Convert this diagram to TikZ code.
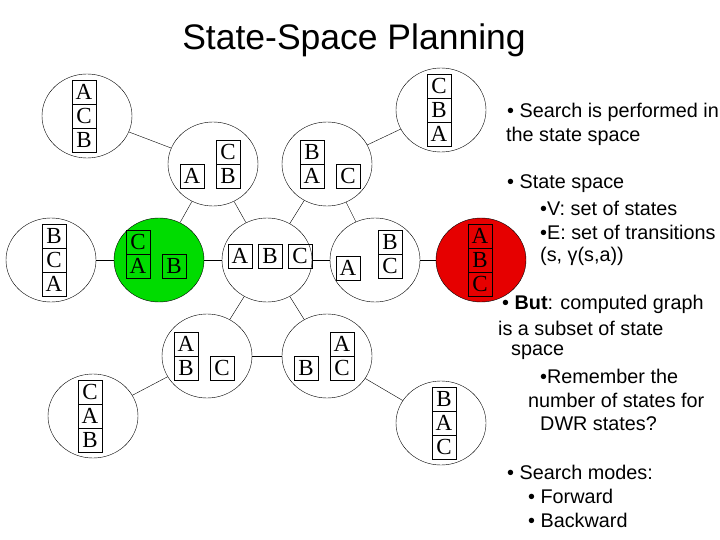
\documentclass[tikz,border=0pt]{standalone}
\usepackage{fontspec}
\setmainfont{Liberation Serif}
\newfontfamily\sans{Liberation Sans}
\begin{document}
\begin{tikzpicture}[x=1pt,y=-1pt,
  st/.style={draw,ellipse,minimum width=90,minimum height=84,inner sep=0},
  blk/.style={draw,minimum size=24,inner sep=0,font=\fontsize{23}{23}\selectfont},
  rt/.style={anchor=west,font=\sans\fontsize{19.8}{19.8}\selectfont,inner sep=0}]
\usetikzlibrary{shapes.geometric}
\path[use as bounding box] (0,0) rectangle (720,540);
\node[font=\sans\fontsize{35.5}{35.5}\selectfont] (title) at (354,40) {State-Space Planning};
\node[st] (s1) at (87,116) {};
\node[st] (s2) at (213,164) {};
\node[st] (s3) at (327,164) {};
\node[st] (s4) at (441,110) {};
\node[st] (s5) at (51,260) {};
\node[st,fill={rgb,255:red,0;green,220;blue,0}] (s6) at (159,260) {};
\node[st] (s7) at (267,260) {};
\node[st] (s8) at (375,260) {};
\node[st,fill={rgb,255:red,230;green,0;blue,0}] (s9) at (481,260) {};
\node[st] (s10) at (207,356) {};
\node[st] (s11) at (327,356) {};
\node[st] (s12) at (93,416) {};
\node[st] (s13) at (441,423) {};
\foreach \a/\b in {s1/s2,s2/s6,s2/s7,s3/s7,s3/s4,s3/s8,s5/s6,s6/s7,s7/s8,s8/s9,s7/s10,s7/s11,s10/s11,s10/s12,s11/s13}
  \draw (\a) -- (\b);
% blocks
\foreach \n/\x/\y/\t in {
 a1/84/92/A,a2/84/116/C,a3/84/140/B,
 b1/192/176/A,b2/228/152/C,b3/228/176/B,
 c1/312/152/B,c2/312/176/A,c3/348/176/C,
 d1/439/86/C,d2/439/110/B,d3/439/134/A,
 e1/54/236/B,e2/54/260/C,e3/54/284/A,
 f1/138/242/C,f2/138/266/A,f3/174/266/B,
 g1/240/256/A,g2/270/256/B,g3/300/256/C,
 h1/348/268/A,h2/390/242/B,h3/390/266/C,
 i1/480/236/A,i2/480/260/B,i3/480/284/C,
 j1/186/344/A,j2/186/368/B,j3/222/368/C,
 k1/306/368/B,k2/342/344/A,k3/342/368/C,
 l1/90/392/C,l2/90/416/A,l3/90/440/B,
 m1/444/399/B,m2/444/423/A,m3/444/447/C}
  \node[blk] (\n) at (\x,\y) {\t};
% text
\node[rt] (t1) at (507,112) {• Search is performed in};
\node[rt] (t2) at (506,136) {the state space};
\node[rt] (t3) at (507,184) {• State space};
\node[rt] (t4) at (540,208) {•V: set of states};
\node[rt] (t5) at (540,232) {•E: set of transitions};
\node[rt] (t6) at (540,256) {(s, γ(s,a))};
\node[rt] (t7) at (502,304) {• \textbf{But}: computed graph};
\node[rt] (t8) at (498,328) {is a subset of state};
\node[rt] (t9) at (511,352) {space};
\node[rt] (t10) at (540,376) {•Remember the};
\node[rt] (t11) at (528,400) {number of states for};
\node[rt] (t12) at (540,424) {DWR states?};
\node[rt] (t13) at (507,472) {• Search modes:};
\node[rt] (t14) at (528,496) {• Forward};
\node[rt] (t15) at (528,520) {• Backward};
\end{tikzpicture}
\end{document}
